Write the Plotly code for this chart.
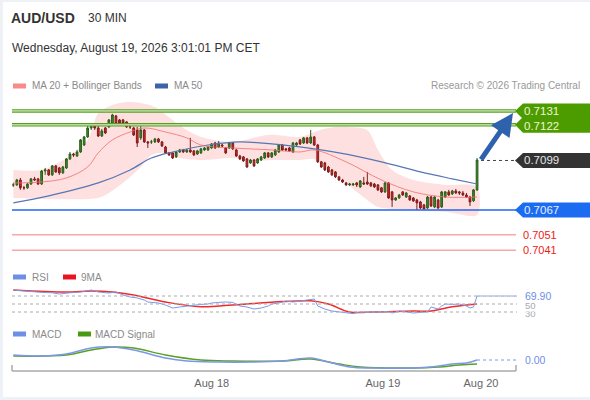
import plotly.graph_objects as go

W, H = 590, 400
FONT = "Liberation Sans, Arial, sans-serif"

# 30 minute candles, index 0 .. 131
open_ = [
    0.70832, 0.70832, 0.70864, 0.70813, 0.70813, 0.70838, 0.70871, 0.70871, 0.70838, 0.70922,
    0.70929, 0.70897, 0.70955, 0.70942, 0.70910, 0.70942, 0.71000, 0.71032, 0.71019, 0.71045,
    0.71090, 0.71142, 0.71200, 0.71220, 0.71200, 0.71148, 0.71200, 0.71207, 0.71220, 0.71278,
    0.71252, 0.71252, 0.71239, 0.71207, 0.71200, 0.71187, 0.71136, 0.71187, 0.71110, 0.71110,
    0.71110, 0.71129, 0.71110, 0.71077, 0.71039, 0.71039, 0.71013, 0.71045, 0.71058, 0.71045,
    0.71058, 0.71052, 0.71032, 0.71039, 0.71058, 0.71058, 0.71071, 0.71103, 0.71077, 0.71090,
    0.71071, 0.71071, 0.71103, 0.71058, 0.71019, 0.71013, 0.71000, 0.70974, 0.70993, 0.70974,
    0.70993, 0.71006, 0.71039, 0.71013, 0.71026, 0.71045, 0.71090, 0.71065, 0.71071, 0.71045,
    0.71090, 0.71123, 0.71103, 0.71136, 0.71103, 0.71142, 0.71090, 0.70981, 0.70974, 0.70948,
    0.70929, 0.70916, 0.70884, 0.70864, 0.70845, 0.70832, 0.70832, 0.70845, 0.70819, 0.70845,
    0.70851, 0.70845, 0.70838, 0.70832, 0.70813, 0.70787, 0.70845, 0.70787, 0.70735, 0.70748,
    0.70787, 0.70754, 0.70761, 0.70748, 0.70735, 0.70722, 0.70703, 0.70683, 0.70754, 0.70690,
    0.70735, 0.70690, 0.70754, 0.70787, 0.70774, 0.70793, 0.70787, 0.70780, 0.70767, 0.70754,
    0.70729, 0.70800,
]
high = [
    0.70845, 0.70871, 0.70877, 0.70826, 0.70845, 0.70877, 0.70884, 0.70877, 0.70929, 0.70942,
    0.70935, 0.70961, 0.70961, 0.70948, 0.70955, 0.71006, 0.71045, 0.71039, 0.71058, 0.71129,
    0.71148, 0.71213, 0.71226, 0.71226, 0.71213, 0.71194, 0.71207, 0.71258, 0.71291, 0.71284,
    0.71258, 0.71258, 0.71245, 0.71220, 0.71207, 0.71207, 0.71213, 0.71194, 0.71116, 0.71123,
    0.71136, 0.71136, 0.71116, 0.71084, 0.71045, 0.71045, 0.71052, 0.71065, 0.71065, 0.71065,
    0.71136, 0.71058, 0.71058, 0.71071, 0.71077, 0.71084, 0.71103, 0.71110, 0.71116, 0.71097,
    0.71077, 0.71110, 0.71110, 0.71065, 0.71026, 0.71019, 0.71006, 0.71000, 0.71000, 0.71006,
    0.71019, 0.71045, 0.71045, 0.71045, 0.71065, 0.71097, 0.71097, 0.71071, 0.71077, 0.71110,
    0.71110, 0.71129, 0.71142, 0.71142, 0.71187, 0.71148, 0.71097, 0.70987, 0.70981, 0.70955,
    0.70935, 0.70922, 0.70890, 0.70871, 0.70851, 0.70845, 0.70845, 0.70851, 0.70864, 0.70884,
    0.70916, 0.70851, 0.70845, 0.70838, 0.70819, 0.70851, 0.70851, 0.70793, 0.70754, 0.70774,
    0.70793, 0.70787, 0.70767, 0.70754, 0.70742, 0.70729, 0.70709, 0.70761, 0.70761, 0.70761,
    0.70742, 0.70793, 0.70793, 0.70800, 0.70800, 0.70806, 0.70793, 0.70793, 0.70780, 0.70761,
    0.70806, 0.71006,
]
low = [
    0.70819, 0.70826, 0.70800, 0.70800, 0.70806, 0.70832, 0.70858, 0.70832, 0.70832, 0.70897,
    0.70890, 0.70890, 0.70910, 0.70897, 0.70903, 0.70935, 0.70993, 0.71013, 0.71013, 0.71039,
    0.71084, 0.71136, 0.71187, 0.71187, 0.71142, 0.71142, 0.71161, 0.71200, 0.71213, 0.71220,
    0.71226, 0.71220, 0.71200, 0.71194, 0.71148, 0.71077, 0.71123, 0.71103, 0.71071, 0.71097,
    0.71103, 0.71103, 0.71077, 0.71032, 0.71019, 0.71000, 0.71006, 0.71039, 0.71039, 0.71039,
    0.71039, 0.71019, 0.71026, 0.71032, 0.71052, 0.71052, 0.71065, 0.71065, 0.71071, 0.71077,
    0.71032, 0.71065, 0.71058, 0.71013, 0.70993, 0.70981, 0.70942, 0.70968, 0.70948, 0.70968,
    0.70987, 0.71000, 0.71006, 0.71006, 0.71019, 0.71039, 0.71052, 0.71052, 0.71045, 0.71039,
    0.71084, 0.71090, 0.71097, 0.71097, 0.71097, 0.71084, 0.70974, 0.70942, 0.70922, 0.70910,
    0.70890, 0.70877, 0.70858, 0.70845, 0.70826, 0.70826, 0.70826, 0.70819, 0.70813, 0.70832,
    0.70832, 0.70819, 0.70813, 0.70793, 0.70780, 0.70780, 0.70742, 0.70690, 0.70729, 0.70742,
    0.70761, 0.70748, 0.70729, 0.70722, 0.70670, 0.70677, 0.70670, 0.70677, 0.70690, 0.70683,
    0.70677, 0.70683, 0.70748, 0.70761, 0.70767, 0.70774, 0.70767, 0.70761, 0.70748, 0.70696,
    0.70722, 0.70793,
]
close = [
    0.70832, 0.70864, 0.70813, 0.70813, 0.70838, 0.70871, 0.70864, 0.70838, 0.70922, 0.70929,
    0.70897, 0.70955, 0.70916, 0.70910, 0.70948, 0.71000, 0.71032, 0.71026, 0.71045, 0.71123,
    0.71142, 0.71200, 0.71220, 0.71200, 0.71148, 0.71181, 0.71168, 0.71252, 0.71284, 0.71226,
    0.71232, 0.71232, 0.71207, 0.71207, 0.71155, 0.71103, 0.71187, 0.71110, 0.71103, 0.71110,
    0.71129, 0.71110, 0.71084, 0.71039, 0.71026, 0.71006, 0.71045, 0.71058, 0.71045, 0.71058,
    0.71045, 0.71026, 0.71052, 0.71065, 0.71071, 0.71077, 0.71097, 0.71071, 0.71103, 0.71084,
    0.71039, 0.71103, 0.71065, 0.71019, 0.71000, 0.70987, 0.70948, 0.70993, 0.70955, 0.71000,
    0.71013, 0.71039, 0.71013, 0.71039, 0.71058, 0.71090, 0.71058, 0.71058, 0.71052, 0.71103,
    0.71103, 0.71097, 0.71136, 0.71103, 0.71142, 0.71090, 0.70981, 0.70948, 0.70929, 0.70916,
    0.70897, 0.70884, 0.70864, 0.70851, 0.70832, 0.70838, 0.70838, 0.70832, 0.70858, 0.70838,
    0.70838, 0.70826, 0.70819, 0.70800, 0.70787, 0.70845, 0.70748, 0.70735, 0.70748, 0.70767,
    0.70767, 0.70780, 0.70735, 0.70729, 0.70716, 0.70683, 0.70677, 0.70754, 0.70696, 0.70754,
    0.70683, 0.70787, 0.70787, 0.70767, 0.70793, 0.70780, 0.70780, 0.70767, 0.70754, 0.70722,
    0.70800, 0.70993,
]
bar_idx = list(range(len(close)))

# moving averages and bollinger bands (read at sample bars)
ma20_idx = [0, 8, 15, 21, 24, 28, 33, 37, 43, 49, 53, 62, 73, 81, 85, 94, 104, 113, 122, 131]
ma20 = [0.70845, 0.70851, 0.70877, 0.70948, 0.71039, 0.71123, 0.71174, 0.71200, 0.71174, 0.71136,
        0.71090, 0.71071, 0.71058, 0.71045, 0.71058, 0.70981, 0.70864, 0.70787, 0.70754, 0.70754]
ma50_idx = [0, 10, 24, 33, 39, 45, 55, 64, 73, 83, 92, 104, 115, 124, 131]
ma50 = [0.70716, 0.70761, 0.70845, 0.70929, 0.71006, 0.71045, 0.71090, 0.71110, 0.71097, 0.71071,
        0.71039, 0.70981, 0.70916, 0.70871, 0.70838]
bb_up_idx = [0, 8, 15, 21, 24, 28, 32, 36, 40, 45, 49, 53, 62, 72, 81, 85, 89, 94, 100, 103, 107, 113, 122, 131]
bb_up = [0.70929, 0.70929, 0.71006, 0.71123, 0.71297, 0.71349, 0.71368, 0.71362, 0.71336, 0.71252,
         0.71187, 0.71142, 0.71110, 0.71155, 0.71142, 0.71174, 0.71200, 0.71207, 0.71187, 0.71058,
         0.70929, 0.70864, 0.70832, 0.70819]
bb_lo_idx = [0, 24, 27, 32, 36, 39, 43, 47, 53, 62, 68, 73, 81, 85, 89, 94, 100, 103, 113, 122, 131]
bb_lo = [0.70748, 0.70748, 0.70780, 0.70864, 0.70948, 0.71026, 0.71039, 0.71006, 0.70993, 0.71006,
         0.70987, 0.70993, 0.70993, 0.71000, 0.70948, 0.70845, 0.70735, 0.70690, 0.70670, 0.70658,
         0.70638]

# RSI panel
rsi_idx = [0, 3, 8, 11, 13, 16, 19, 22, 24, 27, 29, 31, 33, 35, 37, 38, 40, 41, 43, 45,
           47, 49, 51, 53, 55, 56, 58, 60, 62, 64, 66, 68, 70, 72, 73, 75, 77, 79, 81, 83,
           85, 86, 88, 90, 92, 94, 96, 98, 100, 102, 104, 106, 107, 109, 111, 113, 115, 117, 118, 120,
           121, 122, 124, 126, 128, 129, 130, 131]
rsi = [85, 82.5, 79, 78, 75, 78, 80, 85, 80, 77.5, 80, 72.5, 67.5, 65, 60, 55, 52.5, 52.5, 47.5, 40,
       42.5, 45, 47.5, 49, 50, 52.5, 54, 55, 54, 45, 42.5, 37.5, 40, 45, 50, 52.5, 57.5, 55, 57.5, 60,
       62.5, 45, 37.5, 32.5, 30, 27.5, 26, 30, 29, 30, 30, 31, 27.5, 32.5, 30, 27.5, 29, 30, 42.5, 37.5,
       45, 50, 49, 50, 45, 40, 42.5, 69.9]
rsi_ma_idx = [0, 15, 22, 28, 34, 43, 53, 62, 76, 84, 89, 95, 102, 113, 118, 124, 131]
rsi_ma = [85, 80, 82.5, 80, 72.5, 55, 43, 47.5, 56, 58, 50, 30, 30, 32.5, 32.5, 43, 50]
rsi_levels = [70, 50, 30]

# MACD panel
macd_idx = [0, 8, 15, 22, 28, 34, 43, 49, 58, 67, 76, 84, 89, 95, 102, 113, 118, 124, 128, 131]
macd = [0.00004, 0.00003, 0.00005, 0.00011, 0.00012, 0.00009, 0.00001, -0.00002, -0.00003, -0.00003,
        -0.00002, 0.00001, -0.00003, -0.00008, -0.00009, -0.00009, -0.00008, -0.00005, -0.00004, -0.00001]
sig_idx = [0, 15, 22, 28, 34, 43, 53, 62, 76, 84, 92, 98, 113, 120, 126, 131]
sig = [0.00003, 0.00004, 0.00009, 0.00012, 0.00011, 0.00004, -0.00001, -0.00002, -0.00002, 0.0,
       -0.00005, -0.00008, -0.00009, -0.00008, -0.00006, -0.00005]
macd_last_text = "0.00"

resistance = [0.7131, 0.7122]
pivot = 0.7099
support = [0.7067, 0.7051, 0.7041]

tick_idx = [56.05, 104.4, 132.1]
tick_text = ["Aug 18", "Aug 19", "Aug 20"]

# layout geometry (pixels of the 590x400 page)
x_range = [-0.37, 142.0]
price_range = [0.70347, 0.71413]
rsi_range = [15, 97.5]
macd_range = [-0.00011, 0.00019]


def px(x):
    return x / W


def py(y):
    return 1 - y / H


def idx_at(x):
    return x_range[0] + (x - 12) / 504 * (x_range[1] - x_range[0])


def price_y(p):
    return 260 - (p - price_range[0]) / (price_range[1] - price_range[0]) * 165


def path(pts):
    return "M " + " L ".join(f"{px(a):.5f},{py(b):.5f}" for a, b in pts) + " Z"


fig = go.Figure()

# bollinger envelope as one closed outline: upper edge left->right, lower edge right->left
fig.add_trace(go.Scatter(x=bb_up_idx + bb_lo_idx[::-1], y=bb_up + bb_lo[::-1], mode="lines",
                         line=dict(width=0, shape="spline", smoothing=0.8), fill="toself",
                         fillcolor="rgba(250,140,140,0.27)", yaxis="y", hoverinfo="skip"))

fig.add_trace(go.Candlestick(
    x=bar_idx, open=open_, high=high, low=low, close=close, yaxis="y4",
    increasing=dict(line=dict(color="#2c5e1a", width=1), fillcolor="#3d8a28"),
    decreasing=dict(line=dict(color="#7c1c1c", width=1), fillcolor="#e3221e"),
))
fig.add_trace(go.Scatter(x=ma50_idx, y=ma50, mode="lines", yaxis="y4",
                         line=dict(color="#5677b3", width=1.2, shape="spline")))
fig.add_trace(go.Scatter(x=ma20_idx, y=ma20, mode="lines", yaxis="y4",
                         line=dict(color="rgba(240,110,110,0.8)", width=1, shape="spline")))

fig.add_trace(go.Scatter(x=rsi_ma_idx, y=rsi_ma, mode="lines", yaxis="y2",
                         line=dict(color="#f02a2a", width=1.5, shape="spline")))
fig.add_trace(go.Scatter(x=rsi_idx, y=rsi, mode="lines", yaxis="y2",
                         line=dict(color="#7b98e8", width=1)))

fig.add_trace(go.Scatter(x=sig_idx, y=sig, mode="lines", yaxis="y3",
                         line=dict(color="#5aa021", width=1.5, shape="spline")))
fig.add_trace(go.Scatter(x=macd_idx, y=macd, mode="lines", yaxis="y3",
                         line=dict(color="#7b98e8", width=1.5, shape="spline")))

shapes = [
    dict(type="rect", xref="paper", yref="paper", x0=px(3), x1=px(590), y0=py(397), y1=py(2),
         fillcolor="white", line=dict(width=0), layer="below"),
    dict(type="line", xref="paper", yref="paper", x0=px(12), x1=px(516), y0=py(371), y1=py(371),
         line=dict(color="#aaaaaa", width=1.5)),
    dict(type="line", xref="paper", yref="paper", x0=px(12), x1=px(12), y0=py(371), y1=py(365),
         line=dict(color="#aaaaaa", width=1.5)),
    dict(type="line", xref="paper", yref="paper", x0=px(516), x1=px(516), y0=py(371), y1=py(365),
         line=dict(color="#aaaaaa", width=1.5)),
]
# resistance lines are drawn hollow: a green stroke with a pale core
for lvl in resistance:
    shapes.append(dict(type="line", xref="paper", yref="y", x0=px(12), x1=px(516), y0=lvl, y1=lvl,
                       line=dict(color="#55a01e", width=3.5)))
    shapes.append(dict(type="line", xref="paper", yref="y", x0=px(12), x1=px(516), y0=lvl, y1=lvl,
                       line=dict(color="#f4faee", width=1)))
shapes.append(dict(type="line", xref="paper", yref="y", x0=px(12), x1=px(516), y0=support[0], y1=support[0],
                   line=dict(color="#2266ee", width=1.5)))
for lvl in support[1:]:
    shapes.append(dict(type="line", xref="paper", yref="y", x0=px(12), x1=px(516), y0=lvl, y1=lvl,
                       line=dict(color="#f5aaaa", width=1.5)))
shapes.append(dict(type="line", xref="x", yref="y", x0=idx_at(481), x1=idx_at(516), y0=pivot, y1=pivot,
                   line=dict(color="#444444", width=1, dash="dot")))
for lvl in rsi_levels:
    shapes.append(dict(type="line", xref="paper", yref="y2", x0=px(12), x1=px(517), y0=lvl, y1=lvl,
                       line=dict(color="#aaaaaa", width=1, dash="dot")))
shapes.append(dict(type="line", xref="x", yref="y2", x0=rsi_idx[-1], x1=idx_at(517), y0=rsi[-1], y1=rsi[-1],
                   line=dict(color="#7b98e8", width=1, dash="dot")))
shapes.append(dict(type="line", xref="x", yref="y3", x0=macd_idx[-1], x1=idx_at(517), y0=macd[-1], y1=macd[-1],
                   line=dict(color="#7b98e8", width=1, dash="dot")))

# price tags on the right
r1, r2 = price_y(resistance[0]), price_y(resistance[1])
shapes.append(dict(type="path", xref="paper", yref="paper", line=dict(width=0), fillcolor="#4c9c00",
                   path=path([(515, r1), (523, r1 - 7.5), (592, r1 - 7.5), (592, r2 + 8), (523, r2 + 8),
                              (515, r2), (522, (r1 + r2) / 2)])))
pv = price_y(pivot)
shapes.append(dict(type="path", xref="paper", yref="paper", line=dict(width=0), fillcolor="#333333",
                   path=path([(515, pv), (523, pv - 7.5), (592, pv - 7.5), (592, pv + 7.5), (523, pv + 7.5)])))
s1 = price_y(support[0])
shapes.append(dict(type="path", xref="paper", yref="paper", line=dict(width=0), fillcolor="#1c6cf2",
                   path=path([(515, s1), (523, s1 - 7.5), (592, s1 - 7.5), (592, s1 + 7.5), (523, s1 + 7.5)])))

# legend swatches
for x0, y0, col in [(13, 86, "#f88a8a"), (155, 86, "#3d64a8"), (13, 277, "#6f8fe6"), (63, 277, "#e8141e"),
                    (13, 334, "#6f8fe6"), (78, 334, "#4a9a10")]:
    shapes.append(dict(type="rect", xref="paper", yref="paper", x0=px(x0), x1=px(x0 + 13),
                       y0=py(y0 + 2.5), y1=py(y0 - 2.5), fillcolor=col, line=dict(width=0)))


def label(text, x, y, size=10, color="#8a8a8a", bg=None):
    return dict(text=text, x=px(x), y=py(y), xref="paper", yref="paper", xanchor="left", yanchor="middle",
                showarrow=False, font=dict(family=FONT, size=size, color=color), bgcolor=bg, borderpad=0)


annotations = [
    label("<b>AUD/USD</b>", 10, 18, 14, "#333333"),
    label("30 MIN", 87, 18, 12, "#333333"),
    label("Wednesday, August 19, 2026 3:01:01 PM CET", 11, 48, 12, "#333333"),
    label("MA 20 + Bollinger Bands", 31, 86),
    label("MA 50", 173, 86),
    dict(text="Research © 2026 Trading Central", x=px(582), y=py(86), xref="paper", yref="paper",
         xanchor="right", yanchor="middle", showarrow=False, font=dict(family=FONT, size=10, color="#999999")),
    label("RSI", 31, 277),
    label("9MA", 80, 277),
    label("MACD", 31, 334),
    label("MACD Signal", 94, 334),
    label(f"{resistance[0]:.4f}", 523, r1, 11.5, "#eef5d0"),
    label(f"{resistance[1]:.4f}", 523, r2 + 1, 11.5, "#eef5d0"),
    label(f"{pivot:.4f}", 523, pv, 11.5, "#e6e6e6"),
    label(f"{support[0]:.4f}", 523, s1, 11.5, "#e6ecff"),
    label(f"{support[1]:.4f}", 522, price_y(support[1]), 11, "#f01818"),
    label(f"{support[2]:.4f}", 522, price_y(support[2]), 11, "#f01818"),
    label("30", 524, 313, 9.5, "#aaaaaa"),
    label("50", 524, 305.5, 9.5, "#aaaaaa", "white"),
    label(f"{rsi[-1]:.2f}", 524, 296, 10.5, "#6f8fe6", "white"),
    label(macd_last_text, 524, 360, 10.5, "#6f8fe6"),
    dict(x=px(513), y=py(113), xref="paper", yref="paper", ax=-33, ay=48, axref="pixel", ayref="pixel",
         showarrow=True, arrowhead=2, arrowsize=0.9, arrowwidth=5, arrowcolor="#2f62ad", text=""),
]

fig.update_layout(
    width=W, height=H, margin=dict(l=0, r=0, t=0, b=0),
    paper_bgcolor="#eef1f5", plot_bgcolor="rgba(0,0,0,0)",
    showlegend=False, hovermode=False,
    font=dict(family=FONT),
    xaxis=dict(domain=[px(12), px(516)], range=x_range, showgrid=False, zeroline=False, showline=False,
               tickmode="array", tickvals=tick_idx, ticktext=tick_text, ticks="",
               tickfont=dict(size=11, color="#666666"), anchor="free", position=py(371),
               ticklabelstandoff=4, rangeslider=dict(visible=False)),
    yaxis=dict(domain=[py(260), py(95)], range=price_range, visible=False),
    yaxis4=dict(overlaying="y", range=price_range, visible=False),
    yaxis2=dict(domain=[py(318), py(285)], range=rsi_range, visible=False),
    yaxis3=dict(domain=[py(370), py(340)], range=macd_range, visible=False),
    shapes=shapes,
    annotations=annotations,
)

# the page body has a default margin; remove it so the figure sits at the window's corner
fig.write_html("out.html", config={"displayModeBar": False},
               post_script="document.body.style.margin='0';document.body.style.overflow='hidden';")
